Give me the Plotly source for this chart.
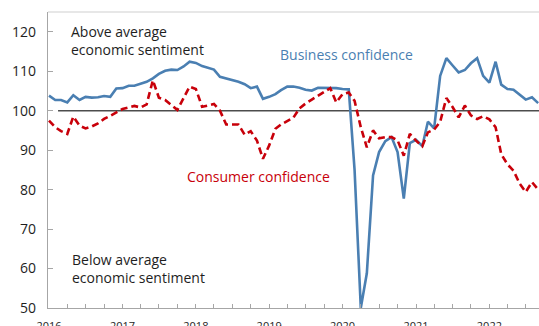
import pandas as pd
import plotly.graph_objects as go

# Monthly index values, Jan 2016 – Sep 2022 (100 = long-run average)
months = pd.date_range("2016-01-01", "2022-09-01", freq="MS")

business_confidence = [
    103.8, 102.7, 102.7, 102.1, 103.9, 102.7, 103.5, 103.3, 103.4, 103.7, 103.5, 105.6,
    105.7, 106.3, 106.3, 106.9, 107.3, 108.2, 109.3, 110.1, 110.4, 110.3, 111.2, 112.4,
    112.1, 111.3, 110.9, 110.4, 108.6, 108.2, 107.8, 107.3, 106.7, 105.7, 106.1, 103.0,
    103.5, 104.2, 105.2, 106.1, 106.1, 105.8, 105.3, 105.1, 105.8, 105.8, 105.8, 105.7,
    105.5, 105.4, 85.0, 50.0, 58.8, 83.6, 89.5, 92.3, 93.3, 89.5, 77.7, 91.8,
    92.6, 91.0, 97.2, 95.5, 108.8, 113.3, 111.5, 109.7, 110.3, 112.0, 113.3, 108.8,
    107.1, 112.4, 106.6, 105.5, 105.3, 104.0, 102.8, 103.4, 101.9,
]

consumer_confidence = [
    97.5, 95.8, 94.8, 94.1, 98.5, 96.2, 95.5, 96.0, 96.8, 97.9, 98.7, 99.6,
    100.4, 100.8, 101.2, 100.8, 101.6, 107.7, 103.3, 102.7, 101.4, 100.2, 103.2, 106.1,
    105.5, 101.0, 101.3, 101.7, 100.0, 96.5, 96.5, 96.5, 93.9, 94.8, 92.4, 87.8,
    91.2, 95.4, 96.5, 97.4, 98.2, 100.6, 101.8, 102.8, 103.8, 104.7, 105.7, 102.1,
    104.2, 104.6, 102.5, 95.8, 90.7, 95.0, 93.0, 93.3, 93.3, 92.5, 88.6, 94.1,
    92.4, 91.0, 94.5, 95.2, 97.2, 103.2, 101.0, 98.3, 101.3, 98.8, 97.9, 98.6,
    97.8, 95.8, 89.0, 86.4, 84.8, 81.5, 79.4, 81.9, 80.0,
]

y_ticks = [50, 60, 70, 80, 90, 100, 110, 120]
quarter_ticks = pd.date_range("2016-01-01", "2022-07-01", freq="QS")
quarter_labels = [str(d.year) if d.month == 1 else "" for d in quarter_ticks]

BLUE = "#4a7fb2"
RED = "#c8000a"
TEXT = "#1e1e1e"
AXIS = "#a6a6a6"
FONT = "Open Sans"

fig = go.Figure()

fig.add_trace(go.Scatter(
    x=months, y=business_confidence, mode="lines",
    line=dict(color=BLUE, width=2.6), name="Business confidence",
))
fig.add_trace(go.Scatter(
    x=months, y=consumer_confidence, mode="lines",
    line=dict(color=RED, width=2.6, dash="7px,4px"), name="Consumer confidence",
))

# long-run average reference line
fig.add_shape(type="line", xref="x", yref="y",
              x0="2016-02-15", x1="2022-09-05", y0=100, y1=100,
              line=dict(color="#4d4d4d", width=1.5), layer="below")
# top frame line
fig.add_shape(type="line", xref="paper", yref="paper",
              x0=0, x1=1, y0=1, y1=1,
              line=dict(color="#d0d0d0", width=1.2))

def note(text, x, y, color=TEXT):
    fig.add_annotation(text=text, xref="paper", yref="y", x=x, y=y,
                       xanchor="left", yanchor="middle", align="left",
                       showarrow=False, font=dict(family=FONT, size=14, color=color))

note("Above average<br>economic sentiment", 0.043, 117.8)
note("Below average<br>economic sentiment", 0.045, 59.9)
note("Business confidence", 0.468, 114.3, BLUE)
note("Consumer confidence", 0.279, 83.2, RED)

fig.update_layout(
    width=539, height=326,
    margin=dict(l=48, r=0, t=12, b=18),
    plot_bgcolor="white", paper_bgcolor="white",
    showlegend=False,
    font=dict(family=FONT, color=TEXT),
    xaxis=dict(
        range=["2015-12-27", "2022-09-05"],
        tickmode="array", tickvals=quarter_ticks, ticktext=quarter_labels,
        ticks="inside", ticklen=4, tickcolor=AXIS, tickwidth=1,
        showline=True, linecolor=AXIS, linewidth=1.2,
        showgrid=False, zeroline=False, automargin=False,
        tickfont=dict(family=FONT, size=11, color=TEXT),
        ticklabelstandoff=8,
    ),
    yaxis=dict(
        range=[50, 125],
        tickmode="array", tickvals=y_ticks,
        ticks="inside", ticklen=5, tickcolor=AXIS, tickwidth=1,
        showline=True, linecolor=AXIS, linewidth=1.2,
        showgrid=False, zeroline=False, automargin=False,
        tickfont=dict(family=FONT, size=14, color=TEXT),
        ticklabelstandoff=8,
    ),
)

fig.write_html("out.html")
